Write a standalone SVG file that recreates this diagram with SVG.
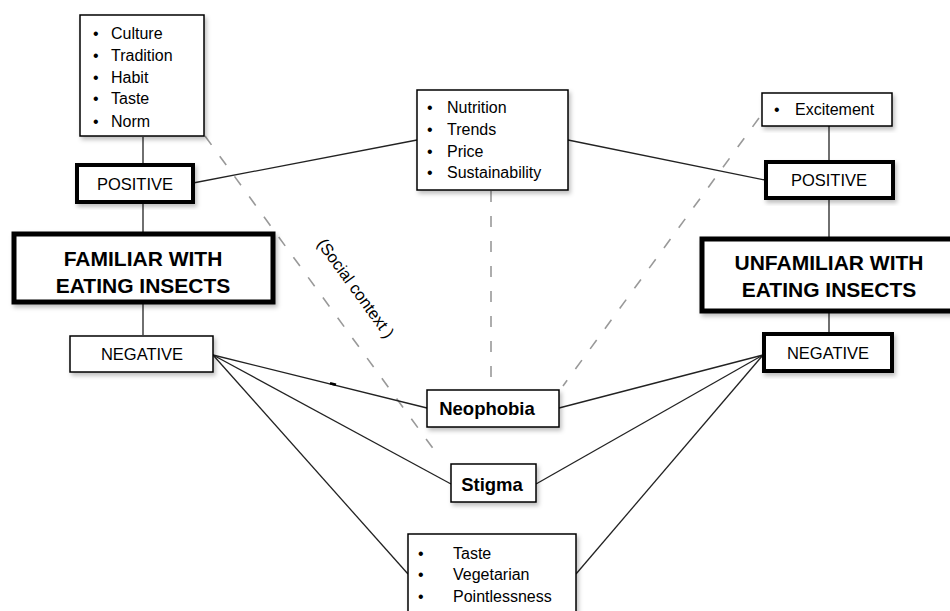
<svg xmlns="http://www.w3.org/2000/svg" width="950" height="611" viewBox="0 0 950 611">
<defs>
<filter id="sh" x="-10%" y="-10%" width="125%" height="130%">
<feDropShadow dx="2" dy="3" stdDeviation="2" flood-color="#000" flood-opacity="0.25"/>
</filter>
<style>
.box{fill:#fff;stroke:#000;filter:url(#sh)}
.t1{stroke-width:1.5}
.t2{stroke-width:2.5}
.t3{stroke-width:4}
.t5{stroke-width:5}
text{font-family:"Liberation Sans",Arial,sans-serif;fill:#000}
.li{font-size:16px}
.lbl{font-size:16.5px;text-anchor:middle;dominant-baseline:central}
.big{font-size:21px;font-weight:bold;text-anchor:middle;dominant-baseline:central}
.bold{font-size:18.5px;font-weight:bold;text-anchor:middle;dominant-baseline:central}
.ln{stroke:#222;stroke-width:1.3;fill:none}
.dash{stroke:#999;stroke-width:1.6;stroke-dasharray:11 14;fill:none}
</style>
</defs>
<rect width="950" height="611" fill="#fff"/>
<g id="connectors">
<line class="dash" x1="205" y1="136" x2="440" y2="458"/>
<line class="dash" x1="491" y1="191" x2="491" y2="388"/>
<line class="dash" x1="759" y1="118" x2="563" y2="386"/>
<line class="ln" x1="143" y1="137" x2="143" y2="164"/>
<line class="ln" x1="143" y1="202" x2="143" y2="232"/>
<line class="ln" x1="143" y1="303" x2="143" y2="335"/>
<line class="ln" x1="829" y1="126" x2="829" y2="161"/>
<line class="ln" x1="829" y1="198" x2="829" y2="237"/>
<line class="ln" x1="829" y1="312" x2="829" y2="333"/>
<line class="ln" x1="193" y1="183" x2="417" y2="140"/>
<line class="ln" x1="568" y1="140" x2="765" y2="180"/>
<line class="ln" x1="213" y1="355" x2="427" y2="408"/>
<line class="ln" x1="213" y1="355" x2="451" y2="484"/>
<line class="ln" x1="213" y1="355" x2="408" y2="574"/>
<line class="ln" x1="763" y1="355" x2="559" y2="408"/>
<line class="ln" x1="763" y1="355" x2="536" y2="484"/>
<line class="ln" x1="763" y1="355" x2="576" y2="574"/>
<line x1="330" y1="383.3" x2="336" y2="384.8" stroke="#000" stroke-width="2.5"/>
</g>
<g id="social-context">
<text class="lbl" transform="translate(356,288) rotate(54)">(Social context )</text>
</g>
<g id="familiar-positive-factors">
<rect class="box t1" x="80" y="15" width="124" height="121"/>
<text class="li" x="93" y="39">•</text><text class="li" x="111" y="39">Culture</text>
<text class="li" x="93" y="61">•</text><text class="li" x="111" y="61">Tradition</text>
<text class="li" x="93" y="83">•</text><text class="li" x="111" y="83">Habit</text>
<text class="li" x="93" y="104">•</text><text class="li" x="111" y="104">Taste</text>
<text class="li" x="93" y="127">•</text><text class="li" x="111" y="127">Norm</text>
</g>
<g id="familiar-positive">
<rect class="box t3" x="77" y="165" width="116" height="37"/>
<text class="lbl" x="135" y="184">POSITIVE</text>
</g>
<g id="familiar">
<rect class="box t5" x="14" y="234" width="259" height="68"/>
<text class="big" x="143" y="258">FAMILIAR WITH</text>
<text class="big" x="143" y="285">EATING INSECTS</text>
</g>
<g id="familiar-negative">
<rect class="box t1" x="70" y="336" width="143" height="36"/>
<text class="lbl" x="142" y="354">NEGATIVE</text>
</g>
<g id="shared-positive-factors">
<rect class="box t1" x="417" y="90" width="151" height="100"/>
<text class="li" x="427" y="113">•</text><text class="li" x="447" y="113">Nutrition</text>
<text class="li" x="427" y="135">•</text><text class="li" x="447" y="135">Trends</text>
<text class="li" x="427" y="157">•</text><text class="li" x="447" y="157">Price</text>
<text class="li" x="427" y="178">•</text><text class="li" x="447" y="178">Sustainability</text>
</g>
<g id="unfamiliar-positive-factors">
<rect class="box t1" x="762" y="93" width="130" height="33"/>
<text class="li" x="774" y="115">•</text><text class="li" x="795" y="115">Excitement</text>
</g>
<g id="unfamiliar-positive">
<rect class="box t3" x="766" y="162" width="127" height="36"/>
<text class="lbl" x="829" y="180">POSITIVE</text>
</g>
<g id="unfamiliar">
<rect class="box t5" x="702" y="239" width="252" height="72"/>
<text class="big" x="829" y="262">UNFAMILIAR WITH</text>
<text class="big" x="829" y="289">EATING INSECTS</text>
</g>
<g id="unfamiliar-negative">
<rect class="box t3" x="764" y="334" width="128" height="37"/>
<text class="lbl" x="828" y="353">NEGATIVE</text>
</g>
<g id="neophobia">
<rect class="box t1" x="427" y="390" width="132" height="37"/>
<text class="bold" x="487" y="408">Neophobia</text>
</g>
<g id="stigma">
<rect class="box t1" x="451" y="464" width="85" height="38"/>
<text class="bold" x="492" y="484">Stigma</text>
</g>
<g id="negative-factors">
<rect class="box t1" x="408" y="534" width="168" height="90"/>
<text class="li" x="418" y="559">•</text><text class="li" x="453" y="559">Taste</text>
<text class="li" x="418" y="580">•</text><text class="li" x="453" y="580">Vegetarian</text>
<text class="li" x="418" y="602">•</text><text class="li" x="453" y="602">Pointlessness</text>
</g>
</svg>
